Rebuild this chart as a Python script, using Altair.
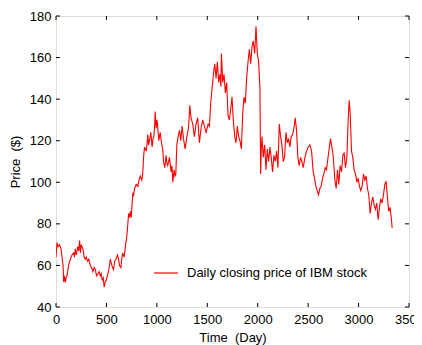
import altair as alt
import pandas as pd

days = [0, 10, 20, 35, 50, 62, 70, 76, 84, 92, 100, 109, 125, 142, 158, 175, 183, 191, 200, 215, 225, 234, 242, 250, 267, 280, 290, 300, 313, 325, 340, 352, 366, 378, 390, 402, 415, 427, 439, 448, 458, 468, 478, 488, 498, 515, 528, 538, 554, 570, 582, 594, 610, 620, 630, 643, 652, 660, 676, 690, 700, 709, 720, 729, 738, 746, 755, 762, 770, 779, 795, 812, 823, 835, 851, 860, 868, 878, 894, 902, 910, 918, 927, 940, 953, 962, 970, 978, 983, 993, 1000, 1006, 1019, 1033, 1049, 1058, 1066, 1079, 1092, 1100, 1108, 1125, 1141, 1150, 1158, 1171, 1180, 1188, 1198, 1211, 1224, 1237, 1250, 1264, 1280, 1297, 1313, 1320, 1326, 1339, 1356, 1372, 1389, 1405, 1422, 1438, 1455, 1471, 1488, 1508, 1521, 1534, 1547, 1561, 1574, 1587, 1600, 1613, 1626, 1635, 1640, 1653, 1666, 1679, 1692, 1706, 1719, 1732, 1745, 1758, 1772, 1785, 1798, 1811, 1824, 1838, 1851, 1864, 1877, 1890, 1904, 1917, 1930, 1943, 1956, 1970, 1983, 1996, 2009, 2022, 2029, 2035, 2042, 2055, 2069, 2082, 2095, 2108, 2121, 2134, 2147, 2161, 2174, 2187, 2200, 2214, 2227, 2240, 2253, 2266, 2280, 2293, 2306, 2319, 2332, 2346, 2359, 2372, 2385, 2398, 2411, 2425, 2438, 2451, 2468, 2484, 2501, 2517, 2534, 2550, 2563, 2577, 2590, 2603, 2616, 2629, 2643, 2656, 2669, 2682, 2695, 2708, 2722, 2735, 2748, 2765, 2778, 2791, 2804, 2817, 2831, 2844, 2857, 2870, 2884, 2897, 2907, 2917, 2930, 2943, 2956, 2970, 2983, 2996, 3009, 3022, 3035, 3049, 3062, 3075, 3088, 3101, 3115, 3128, 3141, 3154, 3167, 3180, 3194, 3207, 3220, 3233, 3247, 3260, 3273, 3286, 3299, 3312, 3326, 3333]

prices = [64, 71, 69, 70, 68, 63, 60, 52, 55, 52, 54, 55, 60, 63, 65, 66, 64, 68, 65, 69, 67, 72, 66, 70, 68, 64, 63, 64, 62, 63, 60, 59, 57, 59, 58, 55, 56, 57, 55, 56, 53, 54, 49.5, 52, 53, 56, 59, 63, 60, 58, 62, 63, 65, 63, 60, 59, 63, 66, 64, 70, 73, 78, 85, 83, 86, 83, 90, 95, 94, 97, 99, 98, 101, 103, 101, 104, 112, 117, 115, 118, 123, 118, 120, 124, 117, 121, 122, 127, 134, 126, 130, 128, 120, 124, 118, 116, 110, 107, 113, 109, 108, 112, 105, 108, 100, 106, 103, 104, 118, 122, 125, 120, 127, 121, 116, 122, 126, 131, 137, 131, 128, 122, 128, 131, 119, 126, 130, 127, 124, 128, 127, 138, 145, 152, 157, 150, 158, 148, 152, 146, 162, 148, 152, 143, 148, 132, 130, 135, 141, 130, 122, 119, 127, 122, 120, 116, 133, 141, 138, 150, 158, 164, 157, 165, 168, 162, 175, 162, 158, 145, 104, 115, 122, 112, 118, 106, 116, 110, 117, 112, 105, 113, 110, 115, 107, 128, 122, 118, 110, 112, 124, 119, 121, 117, 122, 123, 126, 131, 125, 112, 108, 112, 110, 107, 112, 115, 117, 118, 115, 105, 102, 98, 96, 94, 97, 98, 102, 104, 107, 106, 111, 116, 121, 117, 113, 101, 97, 106, 99, 108, 105, 113, 114, 107, 112, 130, 139.5, 133, 115, 112, 106, 104, 100, 102, 98, 96, 98, 104, 101, 103, 97, 94, 85, 90, 93, 89, 87, 90, 82, 88, 92, 90, 94, 99, 100.5, 93, 86, 88, 82, 78]

x_ticks = [0, 500, 1000, 1500, 2000, 2500, 3000, 3500]
y_ticks = [40, 60, 80, 100, 120, 140, 160, 180]
series_name = "Daily closing price of IBM stock"

W, H = 353, 291
FONT = "Liberation Sans"

df = pd.DataFrame({"day": days, "price": prices, "series": series_name})
xt = pd.DataFrame({"t": x_ticks})
yt = pd.DataFrame({"t": y_ticks})

xs = alt.Scale(domain=[0, 3500], nice=False, zero=False)
ys = alt.Scale(domain=[40, 180], nice=False, zero=False)

line = alt.Chart(df).mark_line(strokeWidth=1.1, clip=True).encode(
    x=alt.X("day:Q", scale=xs, axis=alt.Axis(
        values=x_ticks, format="d", title="Time \u00a0(Day)", grid=False, domain=False,
        ticks=False, labelPadding=6, labelFont=FONT, labelFontSize=13,
        labelColor="#000", labelOverlap=False, labelFlush=False,
        titleFont=FONT, titleFontSize=13, titleFontWeight="normal",
        titleColor="#000", titleY=30, titleBaseline="middle")),
    y=alt.Y("price:Q", scale=ys, axis=alt.Axis(
        values=y_ticks, format="d", title="Price \u00a0($)", grid=False, domain=False,
        ticks=False, labelPadding=5, labelFont=FONT, labelFontSize=13,
        labelColor="#000", labelOverlap=False, labelFlush=False,
        titleFont=FONT, titleFontSize=13, titleFontWeight="normal",
        titleColor="#000", titleX=-41, titleY=H / 2, titleAngle=-90,
        titleBaseline="middle", titleAlign="center")),
    color=alt.Color("series:N", scale=alt.Scale(range=["#ff0000"]), legend=alt.Legend(
        title=None, orient="none", legendX=97, legendY=244, padding=0,
        symbolType="stroke", symbolSize=576, symbolStrokeWidth=1.2,
        labelFont=FONT, labelFontSize=13, labelColor="#000", labelOffset=8,
        labelLimit=400)),
)

tick_color = "#000"
xb = alt.Chart(xt).mark_rule(color=tick_color, strokeWidth=1).encode(
    x=alt.X("t:Q", scale=xs), y=alt.value(H), y2=alt.value(H - 4))
xtop = alt.Chart(xt).mark_rule(color=tick_color, strokeWidth=1).encode(
    x=alt.X("t:Q", scale=xs), y=alt.value(0), y2=alt.value(4))
yl = alt.Chart(yt).mark_rule(color=tick_color, strokeWidth=1).encode(
    y=alt.Y("t:Q", scale=ys), x=alt.value(0), x2=alt.value(4))
yr = alt.Chart(yt).mark_rule(color=tick_color, strokeWidth=1).encode(
    y=alt.Y("t:Q", scale=ys), x=alt.value(W), x2=alt.value(W - 4))

chart = alt.layer(line, xb, xtop, yl, yr).properties(
    width=W, height=H,
    autosize=alt.AutoSizeParams(type="none"),
    padding={"left": 48, "top": 8, "right": 5, "bottom": 38},
).configure_view(stroke="#000", strokeWidth=1).configure(background="white")

chart.save("out.html", embed_options={"renderer": "svg", "actions": False})
